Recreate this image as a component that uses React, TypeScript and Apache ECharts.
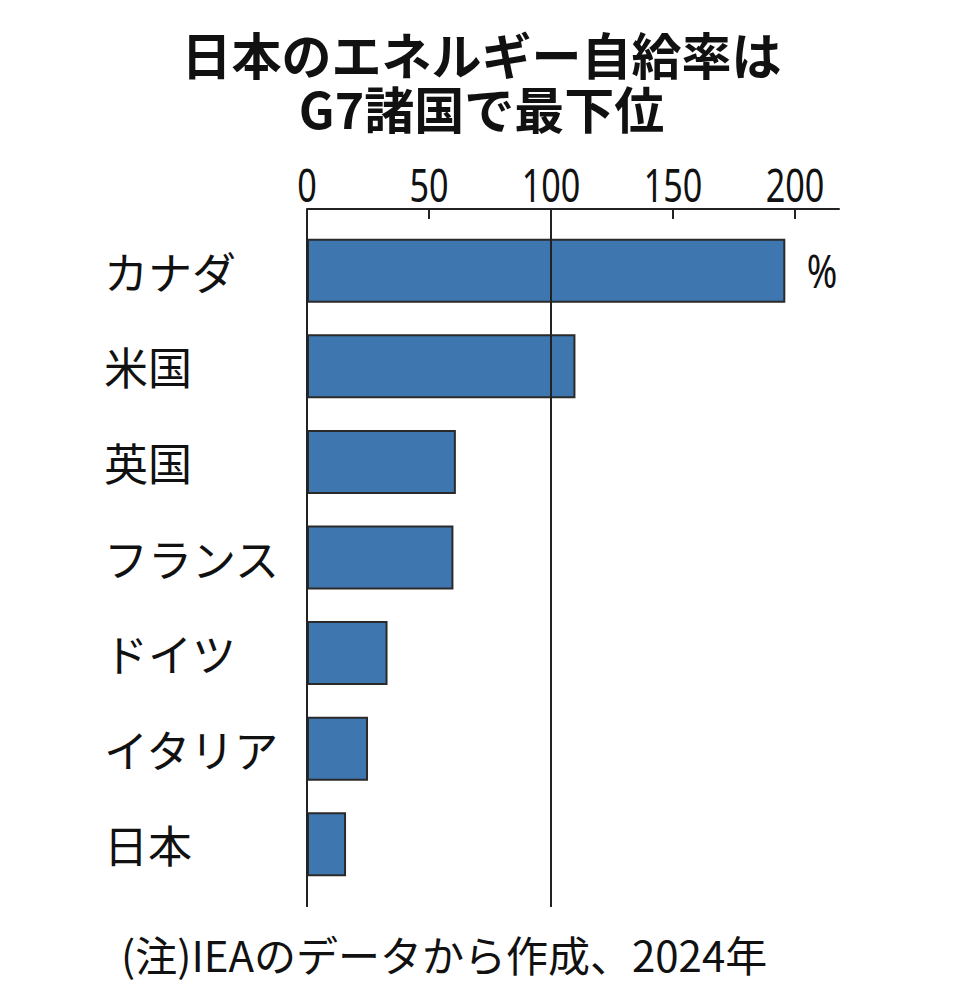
import React, { useEffect, useRef } from "react";
import * as echarts from "echarts";

const categories = ["カナダ", "米国", "英国", "フランス", "ドイツ", "イタリア", "日本"];
const values = [196, 110, 61, 60, 33, 25, 16];
const tickLabels = [0, 50, 100, 150, 200];
const tickMarks = [50, 100, 150, 200];
const refLines = [0, 100];
const titleLines = ["日本のエネルギー自給率は", "G7諸国で最下位"];

const JP = '"Noto Sans CJK JP", "Noto Sans", sans-serif';
const NUM = '"Noto Sans", "Noto Sans CJK JP", sans-serif';

export default function App() {
  const ref = useRef<HTMLDivElement>(null);
  useEffect(() => {
    document.body.style.margin = "0";
    const chart = echarts.init(ref.current!, undefined, { renderer: "svg" });
    chart.setOption({
      animation: false,
      backgroundColor: "#ffffff",
      title: titleLines.map((t, i) => ({
        text: t,
        left: "center",
        top: 29 + i * 54,
        padding: 0,
        textStyle: {
          fontFamily: JP,
          fontSize: 50,
          fontWeight: "bold",
          lineHeight: 48,
          color: "#111",
        },
      })),
      grid: [
        { left: 307, right: 124, top: 223, bottom: 103 },
        { left: 307, right: 124, top: 209, bottom: 88 },
      ],
      xAxis: [
        { gridIndex: 0, type: "value", min: 0, max: 218, show: false },
        {
          gridIndex: 1,
          type: "value",
          position: "top",
          min: 0,
          max: 218,
          interval: 50,
          axisLine: { show: true, onZero: false, lineStyle: { color: "#222", width: 2 } },
          axisTick: {
            show: true,
            inside: true,
            length: 10,
            customValues: tickMarks,
            lineStyle: { color: "#222", width: 2 },
          },
          axisLabel: { show: false },
          splitLine: { show: false },
        },
      ],
      yAxis: [
        {
          gridIndex: 0,
          type: "category",
          data: categories,
          inverse: true,
          axisLine: { show: false },
          axisTick: { show: false },
          axisLabel: {
            align: "left",
            margin: 203,
            fontFamily: JP,
            fontSize: 44,
            color: "#111",
          },
        },
        { gridIndex: 1, type: "value", min: 0, max: 1, show: false },
      ],
      series: [
        {
          type: "bar",
          xAxisIndex: 0,
          yAxisIndex: 0,
          data: values,
          barWidth: 64,
          itemStyle: { color: "#3e76b0", borderColor: "#2a2a2a", borderWidth: 2 },
          z: 2,
        },
        {
          type: "scatter",
          xAxisIndex: 1,
          yAxisIndex: 1,
          data: [],
          z: 3,
          markLine: {
            silent: true,
            symbol: ["none", "none"],
            label: { show: false },
            lineStyle: { color: "#222", width: 2, type: "solid" },
            data: refLines.map((v) => ({ xAxis: v })),
          },
        },
      ],
    });

    const labelEls = tickLabels.map((v) => ({
      type: "text",
      id: "tick-" + v,
      x: chart.convertToPixel({ xAxisIndex: 1 }, v) as number,
      y: 185,
      scaleX: 0.76,
      style: {
        text: String(v),
        textAlign: "center",
        textVerticalAlign: "middle",
        fontFamily: NUM,
        fontSize: 45,
        fill: "#111",
      },
    }));

    chart.setOption({
      graphic: [
        ...labelEls,
        {
          type: "text",
          id: "unit",
          x: 822,
          y: 270,
          scaleX: 0.8,
          style: {
            text: "%",
            textAlign: "center",
            textVerticalAlign: "middle",
            fontFamily: NUM,
            fontSize: 46,
            fill: "#111",
          },
        },
        {
          type: "text",
          id: "note",
          x: 121,
          y: 953,
          style: {
            text: "(注)IEAのデータから作成、2024年",
            textAlign: "left",
            textVerticalAlign: "middle",
            fontFamily: JP,
            fontSize: 42,
            fill: "#111",
          },
        },
      ],
    });
    return () => chart.dispose();
  }, []);
  return <div ref={ref} style={{ width: 963, height: 995 }} />;
}
